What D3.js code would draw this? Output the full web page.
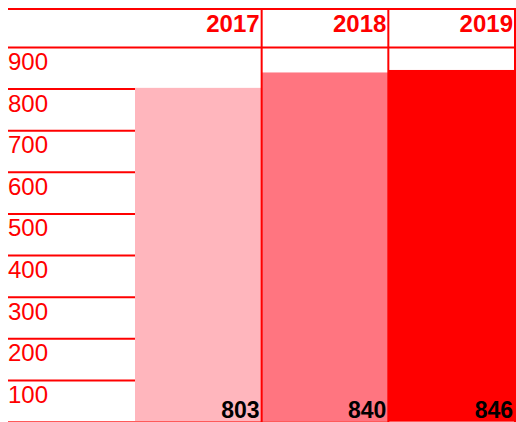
<!DOCTYPE html>
<html>
<head>
<meta charset="utf-8">
<script src="https://cdn.jsdelivr.net/npm/d3@7"></script>
<style>
	body { margin: 0; background: #fff; }
	svg { display: block; }
</style>
</head>
<body>
<div id="chart"></div>
<script>
// data
const years = ["2017", "2018", "2019"];
const values = [803, 840, 846];
const barColors = ["#ffb6bd", "#ff7580", "#ff0000"];
const tickValues = [100, 200, 300, 400, 500, 600, 700, 800, 900];

const WIDTH = 516;
const HEIGHT = 422;
const LINE_COLOR = "#ff0000";
const FONT = "'Liberation Sans', Arial, Helvetica, sans-serif";

const svg = d3.select("#chart")
			  .append("svg")
			  .attr("width", WIDTH)
			  .attr("height", HEIGHT);

// scales
const x = d3.scaleBand()
			.domain(years)
			.range([135, 515]);

const y = d3.scaleLinear()
			.domain([0, 900])
			.range([422, 47.5]);

// bars
svg.selectAll("rect.bar")
   .data(years)
   .enter()
   .append("rect")
   .attr("class", "bar")
   .attr("x", d => x(d))
   .attr("width", x.bandwidth() + 0.5)
   .attr("y", (d, i) => y(values[i]))
   .attr("height", (d, i) => y(0) - y(values[i]))
   .attr("fill", (d, i) => barColors[i]);

// left gridlines (only in the label column)
svg.selectAll("line.grid")
   .data(tickValues.filter(d => d < 900))
   .enter()
   .append("line")
   .attr("class", "grid")
   .attr("x1", 8)
   .attr("x2", x.range()[0])
   .attr("y1", d => y(d))
   .attr("y2", d => y(d))
   .attr("stroke", LINE_COLOR)
   .attr("stroke-width", 2);

// tick labels sit under their gridline
svg.selectAll("text.tick")
   .data(tickValues)
   .enter()
   .append("text")
   .attr("class", "tick")
   .attr("x", 8)
   .attr("y", d => y(d) + 22.5)
   .text(d => d)
   .attr("font-family", FONT)
   .attr("font-size", "24px")
   .attr("fill", LINE_COLOR);

// header lines: top and the 900 line, full width
svg.selectAll("line.head")
   .data([9, y(900)])
   .enter()
   .append("line")
   .attr("class", "head")
   .attr("x1", 8)
   .attr("x2", WIDTH)
   .attr("y1", d => d)
   .attr("y2", d => d)
   .attr("stroke", LINE_COLOR)
   .attr("stroke-width", 2);

// baseline
svg.append("line")
   .attr("x1", 8)
   .attr("x2", WIDTH)
   .attr("y1", y(0) - 0.5)
   .attr("y2", y(0) - 0.5)
   .attr("stroke", "#ff5a5a")
   .attr("stroke-width", 1);

// column separators
svg.selectAll("line.col")
   .data(years.slice(1).map(d => x(d)).concat([x.range()[1]]))
   .enter()
   .append("line")
   .attr("class", "col")
   .attr("x1", d => d)
   .attr("x2", d => d)
   .attr("y1", 8)
   .attr("y2", HEIGHT)
   .attr("stroke", LINE_COLOR)
   .attr("stroke-width", 2);

// year headers
svg.selectAll("text.year")
   .data(years)
   .enter()
   .append("text")
   .attr("class", "year")
   .attr("x", d => x(d) + x.bandwidth() - 2)
   .attr("y", 32)
   .attr("text-anchor", "end")
   .text(d => d)
   .attr("font-family", FONT)
   .attr("font-weight", "bold")
   .attr("font-size", "24px")
   .attr("fill", LINE_COLOR);

// value labels at the foot of each bar
svg.selectAll("text.value")
   .data(years)
   .enter()
   .append("text")
   .attr("class", "value")
   .attr("x", d => x(d) + x.bandwidth() - 2)
   .attr("y", 418)
   .attr("text-anchor", "end")
   .text((d, i) => values[i])
   .attr("font-family", FONT)
   .attr("font-weight", "bold")
   .attr("font-size", "23px")
   .attr("fill", "#000");
</script>
</body>
</html>
